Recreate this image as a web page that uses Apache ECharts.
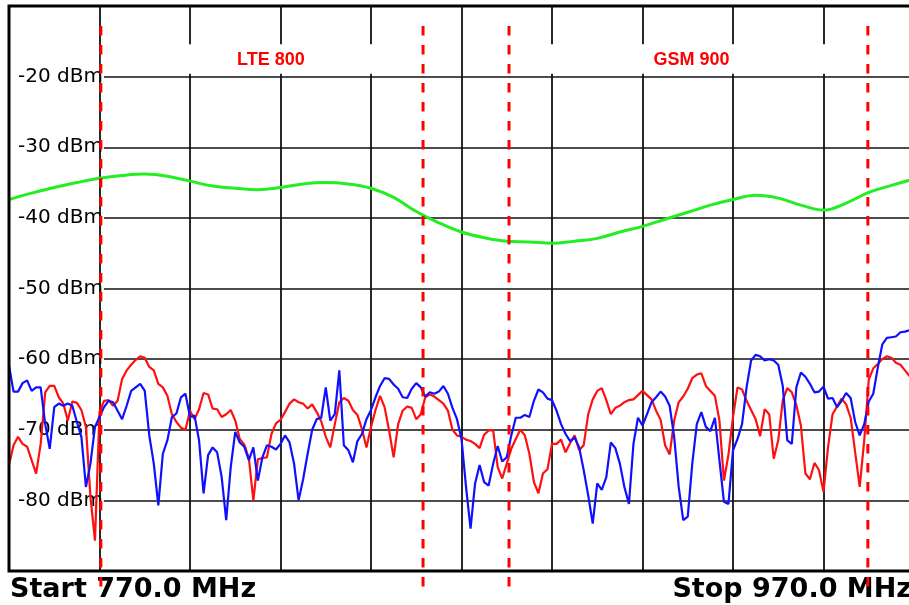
<!DOCTYPE html>
<html><head><meta charset="utf-8">
<script src="https://cdn.jsdelivr.net/npm/echarts@6/dist/echarts.min.js"></script>
<style>html,body{margin:0;padding:0;background:#fff}#c{width:909px;height:605px}</style>
</head><body><div id="c"></div><script>
// Frequency sweep (MHz) and level axis (dBm)
const freqMin = 770, freqMax = 970, freqStep = 1;
const levelMin = -90, levelMax = -10, levelStep = 10;
const levelTicks = [-80, -70, -60, -50, -40, -30, -20];
const freqGridStep = 20;

// Red trace, one value per MHz from 770 to 970
const redTrace = [
  -75.0, -72.2, -71.0, -72.0, -72.4, -74.3, -76.2, -72.0, -64.7, -63.8,
  -63.8, -65.4, -66.3, -68.7, -66.0, -66.2, -67.2, -69.6, -79.5, -85.7,
  -67.5, -65.9, -65.8, -66.6, -65.9, -62.8, -61.6, -60.8, -60.1, -59.6,
  -59.8, -61.1, -61.6, -63.5, -64.0, -65.2, -67.8, -68.9, -69.7, -70.0,
  -67.3, -68.5, -67.1, -64.8, -65.0, -67.0, -67.1, -68.2, -67.8, -67.2,
  -68.7, -71.3, -72.1, -74.0, -80.0, -74.2, -74.0, -73.9, -70.6, -69.1,
  -68.6, -67.5, -66.3, -65.7, -66.1, -66.3, -67.0, -66.4, -67.5, -68.8,
  -71.0, -72.5, -69.2, -66.1, -65.5, -65.9, -67.2, -67.9, -69.9, -72.5,
  -69.6, -67.2, -65.2, -66.8, -70.1, -73.9, -69.2, -67.3, -66.7, -66.9,
  -68.5, -67.8, -65.4, -65.0, -65.3, -65.8, -66.3, -67.3, -70.0, -70.8,
  -71.0, -71.4, -71.6, -72.0, -72.6, -70.7, -70.1, -70.1, -75.3, -76.9,
  -74.8, -72.7, -71.3, -70.0, -70.8, -73.4, -77.4, -79.0, -76.2, -75.6,
  -72.0, -72.0, -71.4, -73.2, -71.9, -70.8, -72.9, -72.2, -67.8, -65.7,
  -64.5, -64.1, -65.8, -67.8, -66.9, -66.6, -66.1, -65.8, -65.7, -65.1,
  -64.5, -65.1, -65.7, -67.3, -68.6, -72.2, -73.5, -68.7, -66.1, -65.3,
  -64.2, -62.7, -62.2, -62.0, -63.8, -64.5, -65.2, -68.7, -77.2, -73.5,
  -68.2, -64.0, -64.3, -65.9, -67.2, -68.5, -70.9, -67.1, -67.8, -74.1,
  -71.5, -65.8, -64.1, -64.7, -66.5, -69.4, -76.2, -77.0, -74.7, -75.7,
  -78.8, -72.5, -67.8, -66.7, -65.6, -66.4, -68.3, -73.2, -78.1, -71.5,
  -62.9, -61.3, -60.7, -60.0, -59.6, -59.8, -60.5, -60.8, -61.6, -62.4,
  -62.8
];

// Blue trace, one value per MHz from 770 to 970
const blueTrace = [
  -60.9, -64.6, -64.6, -63.4, -63.0, -64.5, -64.0, -64.0, -69.2, -72.7,
  -66.8, -66.3, -66.6, -66.3, -66.6, -68.9, -71.0, -78.1, -74.8, -69.6,
  -68.2, -66.8, -65.9, -66.1, -67.3, -68.5, -66.6, -64.5, -64.0, -63.5,
  -64.5, -70.8, -74.8, -80.7, -73.4, -71.5, -68.2, -67.7, -65.4, -64.9,
  -68.2, -68.0, -71.5, -79.0, -73.6, -72.5, -73.2, -76.7, -82.8, -75.3,
  -70.3, -71.8, -72.4, -74.3, -72.5, -77.2, -73.9, -72.2, -72.4, -72.8,
  -72.0, -70.8, -71.8, -74.8, -80.0, -77.0, -73.4, -70.0, -68.5, -68.3,
  -64.0, -68.7, -67.8, -61.6, -72.2, -72.9, -74.6, -71.6, -70.6, -68.5,
  -67.2, -65.4, -63.8, -62.7, -62.8, -63.6, -64.2, -65.4, -65.5, -64.2,
  -63.4, -64.0, -65.3, -64.7, -64.9, -64.6, -63.8, -64.9, -66.9, -68.5,
  -71.3, -78.1, -84.0, -77.6, -75.0, -77.4, -77.9, -74.8, -72.3, -74.5,
  -73.9, -70.8, -68.3, -68.3, -67.9, -68.2, -65.9, -64.3, -64.7, -65.6,
  -65.8, -67.3, -69.2, -70.6, -71.6, -71.1, -72.5, -75.7, -79.3, -83.3,
  -77.6, -78.5, -76.7, -71.8, -72.6, -74.8, -78.1, -80.5, -72.0, -68.3,
  -69.4, -67.8, -66.1, -65.4, -64.6, -65.3, -66.6, -71.0, -78.1, -82.8,
  -82.3, -74.8, -69.2, -67.5, -69.6, -70.2, -68.3, -74.3, -80.2, -80.5,
  -72.9, -71.3, -69.2, -64.0, -60.2, -59.4, -59.6, -60.2, -60.0, -60.2,
  -60.8, -63.8, -71.5, -72.0, -64.0, -61.9, -62.5, -63.5, -64.7, -64.6,
  -63.9, -65.6, -65.5, -66.8, -65.9, -64.8, -65.5, -68.9, -70.8, -69.2,
  -66.0, -64.9, -61.2, -57.9, -57.0, -56.9, -56.8, -56.2, -56.1, -55.9,
  -55.8
];

// Green limit line, read every 5 MHz
const greenFreqs = [770, 775, 780, 785, 790, 795, 800, 805, 810, 815, 820, 825, 830, 835, 840, 845, 850, 855, 860, 865, 870, 875, 880, 885, 890, 895, 900, 905, 910, 915, 920, 925, 930, 935, 940, 945, 950, 955, 960, 965, 970];
const greenTrace = [-37.4, -36.5, -35.7, -35.0, -34.4, -34.0, -33.8, -34.1, -34.8, -35.5, -35.8, -36.0, -35.7, -35.2, -35.0, -35.2, -35.8, -37.1, -39.1, -40.7, -42.0, -42.8, -43.3, -43.4, -43.6, -43.3, -42.9, -42.0, -41.2, -40.2, -39.2, -38.2, -37.4, -36.8, -37.2, -38.2, -38.9, -37.9, -36.4, -35.4, -34.5];

// Band edges (MHz) and band names
const bandNames = ['LTE 800', 'GSM 900'];
const bandStart = [790.3, 880.5];
const bandStop = [861.5, 959.8];
const bandEdges = [790.3, 861.5, 880.5, 959.8];

const freqs = [];
for (let f = freqMin; f <= freqMax + 1e-9; f += freqStep) freqs.push(f);

const chart = echarts.init(document.getElementById('c'), null, {renderer: 'canvas'});

const labelOffsets = [[9, 1], [3, 1]];

const dashedSeries = bandEdges.map(f => ({
  type: 'line', silent: true, clip: false, symbol: 'none', z: 6,
  data: [[f, -12.83], [f, -92.4]],
  lineStyle: {color: '#ff0000', width: 3, type: [9.5, 9.5]}
}));

chart.setOption({
  animation: false,
  grid: {left: 9, top: 6, width: 905, height: 565, outerBoundsMode: 'none', containLabel: false, z: 5,
         show: true, borderColor: '#000', borderWidth: 3, backgroundColor: 'transparent'},
  xAxis: {
    type: 'value', min: freqMin, max: freqMax, interval: freqGridStep, z: 2,
    axisLine: {show: false}, axisTick: {show: false}, axisLabel: {show: false},
    splitLine: {show: true, lineStyle: {color: '#111', width: 1.8}}
  },
  yAxis: [
    {
      type: 'value', min: levelMin, max: levelMax, interval: levelStep, z: 0,
      axisLine: {show: false}, axisTick: {show: false}, axisLabel: {show: false},
      splitLine: {show: true, lineStyle: {color: '#111', width: 1.5}}
    },
    {
      type: 'value', min: levelMin, max: levelMax, interval: levelStep, z: 1, position: 'left',
      axisLine: {show: false}, axisTick: {show: false}, splitLine: {show: false},
      axisLabel: {
        inside: true, margin: 1, showMinLabel: false, showMaxLabel: false,
        formatter: v => levelTicks.indexOf(v) >= 0 ? v + ' dBm' : '',
        fontFamily: 'DejaVu Sans', fontSize: 20, color: '#000',
        backgroundColor: '#fff', padding: [1, 1, 1, 8]
      }
    }
  ],
  graphic: [
    {type: 'text', x: 10, y: 590, z: 1, style: {text: 'Start ' + freqMin.toFixed(1) + ' MHz', font: 'bold 27px "DejaVu Sans"', fill: '#000', align: 'left', verticalAlign: 'middle'}},
    {type: 'text', x: 912, y: 590, z: 1, style: {text: 'Stop ' + freqMax.toFixed(1) + ' MHz', font: 'bold 27px "DejaVu Sans"', fill: '#000', align: 'right', verticalAlign: 'middle'}}
  ],
  series: [
    {
      type: 'line', name: 'bands', data: [], z: 3, silent: true,
      markArea: {
        silent: true, z: 3,
        itemStyle: {color: '#fff', borderWidth: 0, opacity: 1},
        data: bandNames.map((n, i) => [
          {name: n, xAxis: bandStart[i], yAxis: -15.4,
           label: {show: true, position: 'inside', offset: labelOffsets[i], color: '#ff0000', fontFamily: 'Liberation Sans', fontWeight: 'bold', fontSize: 18}},
          {xAxis: bandStop[i], yAxis: -19.6}
        ])
      }
    },
    {
      type: 'line', name: 'limit', z: 4, symbol: 'none', smooth: 0.4, silent: true,
      data: greenFreqs.map((f, i) => [f, greenTrace[i]]),
      lineStyle: {color: '#22ee22', width: 3}
    },
    {
      type: 'line', name: 'red', z: 4, symbol: 'none', silent: true,
      data: freqs.map((f, i) => [f, redTrace[i]]),
      lineStyle: {color: '#ff1010', width: 2.2}
    },
    {
      type: 'line', name: 'blue', z: 4, symbol: 'none', silent: true,
      data: freqs.map((f, i) => [f, blueTrace[i]]),
      lineStyle: {color: '#1010ff', width: 2.2}
    }
  ].concat(dashedSeries)
});
</script></body></html>
